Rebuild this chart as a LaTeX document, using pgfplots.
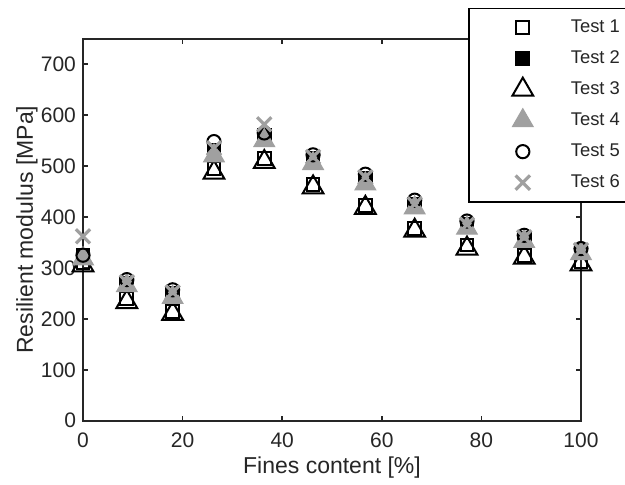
\documentclass[border=0pt]{standalone}
\usepackage{pgfplots}
\pgfplotsset{compat=1.18}
\usepackage{fontspec}
\setmainfont{Liberation Sans}
\definecolor{txt}{RGB}{38,38,38}
\definecolor{mgray}{RGB}{160,160,160}
\newcommand{\legfont}{\fontsize{9.2}{10}\selectfont}
\begin{document}
\begin{tikzpicture}
\begin{axis}[
  scale only axis, width=249pt, height=191pt,
  xmin=0, xmax=100, ymin=0, ymax=750,
  xtick={0,20,...,100}, ytick={0,100,...,700},
  tick align=inside, major tick length=2.6pt,
  axis line style={line width=0.9pt, color=txt},
  every tick/.style={line width=0.8pt, color=txt},
  tick label style={font=\fontsize{10.5}{12}\selectfont, text=txt},
  xticklabel style={yshift=-2.5pt},
  /pgf/number format/assume math mode=true,
  xlabel={Fines content [\%]}, ylabel={Resilient modulus [MPa]},
  label style={font=\fontsize{11.5}{13}\selectfont, text=txt},
  xlabel style={at={(axis description cs:0.5,-0.1394)}, anchor=base},
  ylabel style={at={(axis description cs:-0.1004,0.5)}, anchor=base},
  legend cell align=left,
  legend style={at={(rel axis cs:0.7731,1.0811)}, anchor=north west,
    draw=black, line width=0.8pt, fill=white,
    inner xsep=8pt, inner ysep=1.8pt, row sep=0pt, column sep=4pt,
    font=\legfont, nodes={inner sep=0pt, text=txt, font=\legfont}},
  legend image code/.code={%
    \path[draw=none, fill=none] (-19pt,-7.75pt) rectangle (20pt,7.75pt);
    \draw[#1] plot coordinates {(0pt,0pt)};},
]
\addplot[only marks, mark=square, mark size=3.2pt, black, line width=1pt] coordinates {
(0,310) (8.8,240) (18,215) (26.3,495) (36.4,515) (46.2,463) (56.7,422) (66.6,378) (77.1,345) (88.6,325) (100,312)};
\addlegendentry{\legfont Test 1}
\addplot[only marks, mark=square*, mark size=3.2pt, black, line width=1pt] coordinates {
(0,325) (8.8,270) (18,250) (26.3,530) (36.4,560) (46.2,515) (56.7,475) (66.6,425) (77.1,385) (88.6,358) (100,335)};
\addlegendentry{\legfont Test 2}
\addplot[only marks, mark=triangle, mark size=6pt, black, line width=1pt] coordinates {
(0,305) (8.8,233) (18,210) (26.3,487) (36.4,508) (46.2,458) (56.7,418) (66.6,373) (77.1,338) (88.6,320) (100,307)};
\addlegendentry{\legfont Test 3}
\addplot[only marks, mark=triangle*, mark size=6pt, mgray, line width=0.5pt, mark options={fill=mgray, draw=mgray}] coordinates {
(0,318) (8.8,265) (18,242) (26.3,520) (36.4,550) (46.2,505) (56.7,465) (66.6,418) (77.1,378) (88.6,352) (100,328)};
\addlegendentry{\legfont Test 4}
\addplot[only marks, mark=o, mark size=3.3pt, black, line width=1pt] coordinates {
(0,325) (8.8,277) (18,257) (26.3,548) (36.4,565) (46.2,522) (56.7,484) (66.6,433) (77.1,392) (88.6,364) (100,338)};
\addlegendentry{\legfont Test 5}
\addplot[only marks, mark=x, mark size=5pt, mgray, line width=1.6pt, mark options={line width=1.6pt},
  legend image code/.code={%
    \path[draw=none, fill=none] (-19pt,-7.75pt) rectangle (20pt,7.75pt);
    \draw[mgray, line width=1.6pt] (-3.6pt,-3.6pt) -- (3.6pt,3.6pt) (-3.6pt,3.6pt) -- (3.6pt,-3.6pt);}] coordinates {
(0,362) (8.8,272) (18,252) (26.3,535) (36.4,582) (46.2,518) (56.7,478) (66.6,425) (77.1,385) (88.6,360) (100,335)};
\addlegendentry{\legfont Test 6}
\end{axis}
\pgfresetboundingbox
\path[use as bounding box] (-41.5pt,-31.65pt) rectangle (271pt,210.35pt);
\end{tikzpicture}
\end{document}
